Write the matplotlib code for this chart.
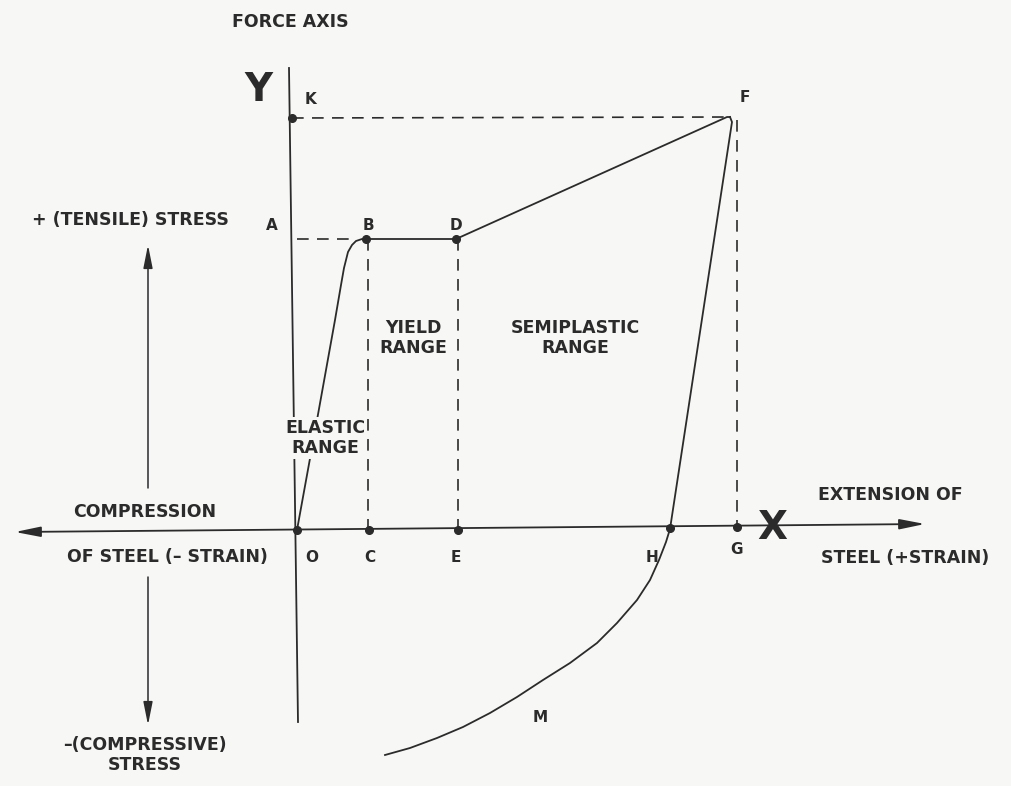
import matplotlib
matplotlib.use("Agg")
import matplotlib.pyplot as plt

# stress-strain diagram of steel; origin O at (0, 0), units ~ pixels of the original sketch
# key points on the curve
pt_names = ['K', 'B', 'D', 'O', 'C', 'E', 'H', 'G']
pt_x = [-5, 69, 159, 0, 72, 161, 373, 440]
pt_y = [412, 291, 291, 0, 0, 0, 2, 3]

# loading curve O -> B (elastic, with rounded knee) -> D (yield) -> F (semiplastic)
load_x = [0, 20, 38, 44, 47, 51, 55, 59, 65, 69, 159, 430, 433]
load_y = [0, 110, 210, 245, 262, 278, 285, 289, 291, 291, 291, 413, 413]

# unloading curve F -> H -> M
unload_x = [433, 435, 373, 369, 362, 353, 340, 320, 300, 273, 246, 220, 193, 166, 140, 113, 88]
unload_y = [413, 408, 1, -12, -30, -50, -70, -93, -113, -133, -150, -167, -183, -197, -208, -218, -225]

# dashed projection lines (x0, y0, x1, y1)
dash_lines = [
    (-5, 412, 433, 413),   # K - F
    (0, 291, 58, 291),     # A - B
    (71, 291, 71, 0),      # B - C
    (161, 291, 161, 0),    # D - E
    (440, 410, 440, 3),    # F - G
]

# text labels
labels = ['FORCE AXIS', '+ (TENSILE) STRESS',
          'YIELD\nRANGE', 'SEMIPLASTIC\nRANGE',
          'COMPRESSION', 'OF STEEL (\u2013 STRAIN)',
          'EXTENSION OF', 'STEEL (+STRAIN)', '\u2013(COMPRESSIVE)\nSTRESS']
label_x = [-7, -167, 116, 278, -152, -130, 593, 608, -152]
label_y = [508, 310, 192, 192, 18, -27, 35, -28, -225]

# point letters
letters = ['K', 'F', 'A', 'B', 'D', 'O', 'C', 'E', 'H', 'G', 'M']
letter_x = [14, 448, -25, 71, 159, 15, 73, 159, 355, 440, 243]
letter_y = [430, 433, 304, 304, 304, -28, -28, -28, -28, -20, -187]

ink = '#2b2b2b'
bg = '#f7f7f5'

fig = plt.figure(figsize=(10.12, 7.86), dpi=100, facecolor=bg)
ax = fig.add_axes([0, 0, 1, 1])
ax.set_facecolor(bg)
ax.set_xlim(-297, 715)
ax.set_ylim(-256, 530)
ax.axis('off')

# axes of the diagram
ax.plot([-8, 1], [462, -192], color=ink, lw=1.3)
ax.annotate('', xy=(628, 6), xytext=(-282, -2),
            arrowprops=dict(arrowstyle='<|-|>,head_length=1.1,head_width=0.22',
                            color=ink, lw=1.3, mutation_scale=14, shrinkA=0, shrinkB=0))

# stress direction arrows
ax.annotate('', xy=(-149, 285), xytext=(-149, 42),
            arrowprops=dict(arrowstyle='-|>,head_length=1.0,head_width=0.2',
                            color=ink, lw=1.1, mutation_scale=14, shrinkA=0, shrinkB=0))
ax.annotate('', xy=(-149, -195), xytext=(-149, -47),
            arrowprops=dict(arrowstyle='-|>,head_length=1.0,head_width=0.2',
                            color=ink, lw=1.1, mutation_scale=14, shrinkA=0, shrinkB=0))

# dashed lines
for x0, y0, x1, y1 in dash_lines:
    ax.plot([x0, x1], [y0, y1], color=ink, lw=1.2, dashes=(7, 5))

# curves
ax.plot(load_x, load_y, color=ink, lw=1.3, solid_joinstyle='round')
ax.plot(unload_x, unload_y, color=ink, lw=1.3, solid_joinstyle='round')

# points
ax.plot(pt_x, pt_y, 'o', color=ink, ms=5.5)

# labels
for t, x, y in zip(labels, label_x, label_y):
    ax.text(x, y, t, ha='center', va='center', fontsize=12.5, fontweight='bold',
            color=ink, linespacing=1.1)
# elastic range label sits on top of the lines
ax.text(28, 92, 'ELASTIC\nRANGE', ha='center', va='center', fontsize=12.5,
        fontweight='bold', color=ink, linespacing=1.1, zorder=5,
        bbox=dict(facecolor=bg, edgecolor='none', pad=1.5))
for t, x, y in zip(letters, letter_x, letter_y):
    ax.text(x, y, t, ha='center', va='center', fontsize=11, fontweight='bold', color=ink)

ax.text(-39, 440, 'Y', ha='center', va='center', fontsize=28, fontweight='bold', color=ink)
ax.text(475, 2, 'X', ha='center', va='center', fontsize=28, fontweight='bold', color=ink)

fig.savefig('out.png', dpi=100, facecolor=bg)
